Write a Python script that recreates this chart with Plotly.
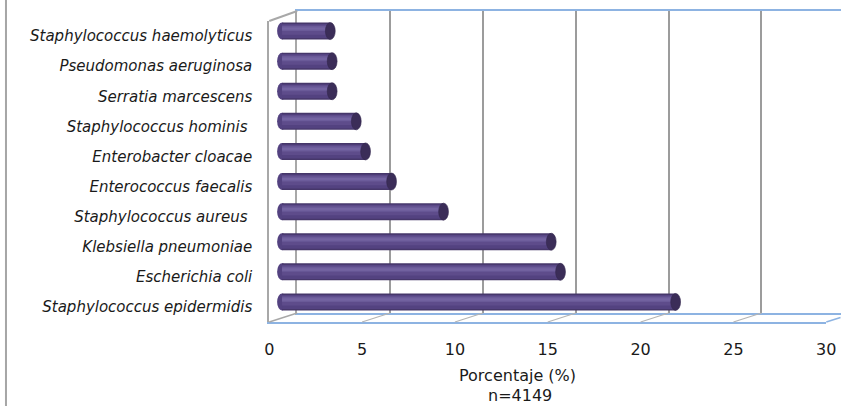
import plotly.graph_objects as go

# Bacterial isolates, percentage of total (n=4149), listed top to bottom
species = [
    "Staphylococcus haemolyticus",
    "Pseudomonas aeruginosa",
    "Serratia marcescens",
    "Staphylococcus hominis ",
    "Enterobacter cloacae",
    "Enterococcus faecalis",
    "Staphylococcus aureus ",
    "Klebsiella pneumoniae",
    "Escherichia coli",
    "Staphylococcus epidermidis",
]
percent = [2.6, 2.7, 2.7, 4.0, 4.5, 5.9, 8.7, 14.5, 15.0, 21.2]
ticks = [0, 5, 10, 15, 20, 25, 30]
x_title = "Porcentaje (%)"
n_label = "n=4149"

W, H = 851, 406
UNIT = 18.9  # pixels per percentage point


def fx(p):
    return p / W


def fy(p):
    return 1 - p / H


# categories bottom-to-top on the axis
cat_order = species[::-1]

GRID = "#9c9c9c"
WALL = "#a8a8a8"
BLUE = "#8db3e2"
TXT = "#1a1a1a"
FONT = "DejaVu Sans"

fig = go.Figure()

# back wall subplot (gridlines only)
fig.add_trace(go.Scatter(x=[], y=[], xaxis="x", yaxis="y", hoverinfo="skip", showlegend=False))

# front plane subplot carrying the category labels and value ticks
fig.add_trace(go.Scatter(x=percent, y=species, mode="none", xaxis="x2", yaxis="y2",
                         hoverinfo="skip", showlegend=False))

# cylinder bodies built from layered bands for shading
bands = [
    (-0.2825, 0.565, "#46376a"),
    (-0.235, 0.47, "#534280"),
    (-0.12, 0.33, "#5e4c8b"),
    (0.0, 0.17, "#6a5a98"),
    (0.04, 0.08, "#7464a2"),
]
for off, wid, col in bands:
    fig.add_trace(go.Bar(
        x=percent, y=species, orientation="h", xaxis="x3", yaxis="y3",
        width=wid, offset=off, marker=dict(color=col, line=dict(width=0)),
        hoverinfo="skip", showlegend=False,
    ))

shapes = []
half_w = 5.0 / UNIT
half_h = 0.2825
for name, v in zip(species, percent):
    k = cat_order.index(name)
    # rounded start of the cylinder
    shapes.append(dict(type="circle", xref="x3", yref="y3", layer="below",
                       x0=-half_w, x1=half_w, y0=k - half_h, y1=k + half_h,
                       fillcolor="#534280", line=dict(width=0)))
    # dark end cap
    shapes.append(dict(type="circle", xref="x3", yref="y3", layer="above",
                       x0=v - half_w, x1=v + half_w, y0=k - half_h, y1=k + half_h,
                       fillcolor="#3b2d58", line=dict(color="#33274d", width=0.6)))

# frame: left border, wall edge and floor diagonals
FRONT0, BACK0 = 269.0, 297.5
FLOOR_F, FLOOR_B = 322.0, 313.0
DX = BACK0 - FRONT0
DY = FLOOR_F - FLOOR_B
shapes.append(dict(type="line", xref="paper", yref="paper", x0=fx(1), x1=fx(1), y0=0, y1=1,
                   line=dict(color="#a6a6a6", width=2)))
shapes.append(dict(type="line", xref="paper", yref="paper", x0=fx(FRONT0), x1=fx(BACK0),
                   y0=fy(21), y1=fy(11), line=dict(color=WALL, width=2)))
for t in ticks:
    xf = FRONT0 + UNIT * t
    xb = xf + DX
    yb = FLOOR_B
    if xb > W - 0.5:  # keep the last diagonal inside the page
        xb = W - 0.5
        yb = FLOOR_F - DY * (xb - xf) / DX
    col = BLUE if t == ticks[-1] else WALL if t == 0 else "#b4b4b4"
    wid = 1.5 if t in (ticks[0], ticks[-1]) else 1.2
    shapes.append(dict(type="line", xref="paper", yref="paper", x0=fx(xf), x1=fx(xb),
                       y0=fy(FLOOR_F), y1=fy(yb), line=dict(color=col, width=wid)))

back_span = (W - BACK0) / UNIT
lead = 0.5  # room left of zero for the rounded cylinder base
BAR0 = 282.0

fig.update_layout(
    width=W, height=H,
    margin=dict(l=0, r=0, t=0, b=0),
    paper_bgcolor="white", plot_bgcolor="rgba(0,0,0,0)",
    barmode="overlay",
    showlegend=False,
    shapes=shapes,
    font=dict(family=FONT, color=TXT),
    xaxis=dict(domain=[fx(BACK0), 1], range=[0, back_span], anchor="y",
               tick0=0, dtick=5, showticklabels=False, ticks="",
               showgrid=True, gridcolor=GRID, gridwidth=2, zeroline=False,
               showline=True, linecolor=BLUE, linewidth=1.5, mirror=True, fixedrange=True),
    yaxis=dict(domain=[fy(FLOOR_B), fy(11)], range=[0, 1], anchor="x",
               showticklabels=False, ticks="", showgrid=False, zeroline=False,
               showline=True, linecolor=WALL, linewidth=2, fixedrange=True),
    xaxis2=dict(domain=[fx(FRONT0), fx(FRONT0 + 30 * UNIT)], range=[0, 30], anchor="y2",
                tickvals=ticks, ticktext=[str(t) for t in ticks], ticks="",
                ticklabelstandoff=12, tickfont=dict(size=16, color=TXT),
                showgrid=False, zeroline=False,
                showline=True, linecolor=BLUE, linewidth=1.5, fixedrange=True),
    yaxis2=dict(domain=[fy(FLOOR_F), fy(21)], range=[-0.5, 9.5], anchor="x2",
                type="category", categoryorder="array", categoryarray=cat_order,
                ticks="", ticklabelstandoff=12,
                tickfont=dict(size=15, color=TXT, style="italic"),
                showgrid=False, zeroline=False,
                showline=True, linecolor=WALL, linewidth=2, fixedrange=True),
    xaxis3=dict(domain=[fx(BAR0 - lead * UNIT), fx(BAR0 + 30 * UNIT)], range=[-lead, 30],
                anchor="y3", visible=False, fixedrange=True),
    yaxis3=dict(domain=[fy(317), fy(16)], range=[-0.5, 9.5], anchor="x3",
                type="category", categoryorder="array", categoryarray=cat_order,
                visible=False, fixedrange=True),
    annotations=[
        dict(text=x_title, xref="paper", yref="paper", x=fx(522), y=fy(386),
             xanchor="center", yanchor="bottom", showarrow=False, borderpad=0,
             font=dict(size=16, color=TXT)),
        dict(text=n_label, xref="paper", yref="paper", x=fx(524), y=0,
             xanchor="center", yanchor="bottom", showarrow=False, borderpad=0,
             font=dict(size=16, color=TXT)),
    ],
)

fig.write_html("out.html")
